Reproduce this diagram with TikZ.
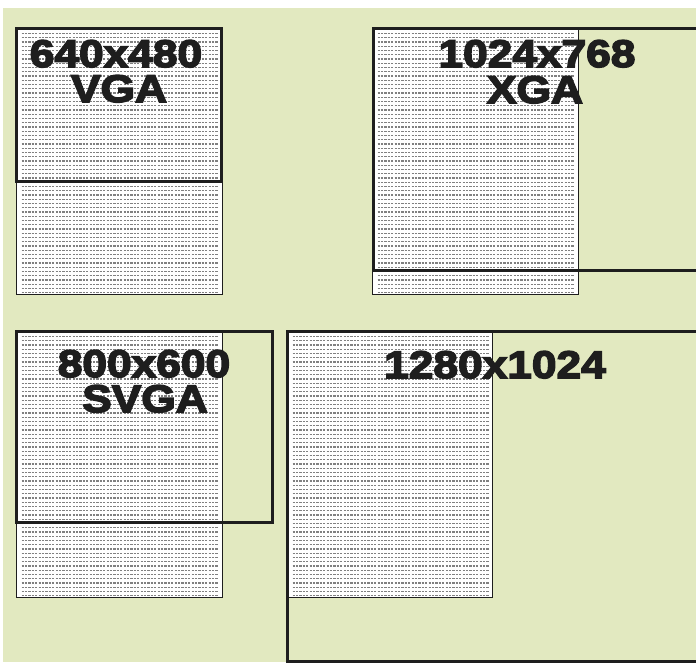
\documentclass[tikz,border=0pt]{standalone}
\usepackage{fontspec}
\newfontfamily\heavy{Liberation Sans Bold}[FakeStretch=1.15,FakeBold=4]
\definecolor{bggreen}{RGB}{226,233,192}
\definecolor{ink}{RGB}{30,30,30}
\begin{document}
\begin{tikzpicture}[x=1pt,y=-1pt,
  panel/.style={draw=ink, line width=1pt, fill=white, anchor=north west, inner sep=0pt,
    minimum width=206pt, minimum height=266pt,
    path picture={\foreach \i in {0,...,61}{
      \draw[gray, line width=1.3pt, dash pattern=on 2.3pt off 1.1pt]
        ([xshift=5pt,yshift={-(5+4.25*\i)*1pt}]path picture bounding box.north west) -- ++(197,0);}}},
  frame/.style={draw=ink, line width=3pt},
  label/.style={font=\heavy\fontsize{38.5}{38.5}\selectfont, text=ink, anchor=base, inner sep=0pt,
    text height=28pt, text depth=0pt}]
\useasboundingbox (0,0) rectangle (696,662);
\clip (0,0) rectangle (696,662);
\fill[white] (0,0) rectangle (696,662);
\fill[bggreen] (3,8) rectangle (696,662);
% panels
\node[panel] (p1) at (16,28) {};
\node[panel] (p2) at (372,28) {};
\node[panel] (p3) at (16,331) {};
\node[panel, minimum width=205pt] (p4) at (287,331) {};
% frames
\draw[frame] (16,28) rectangle (221,181);
\draw[frame] (373,28) rectangle (702,270);
\draw[frame] (16,331) rectangle (272,522);
\draw[frame] (287,331) rectangle (702,661);
% labels
\node[label] (t1) at (116,67) {640x480};
\node[label] (t1b) at (119,102) {VGA};
\node[label] (t2) at (537,67) {1024x768};
\node[label] (t2b) at (535,103) {XGA};
\node[label] (t3) at (144,377) {800x600};
\node[label] (t3b) at (145,412) {SVGA};
\node[label] (t4) at (495,378) {1280x1024};
\end{tikzpicture}
\end{document}
